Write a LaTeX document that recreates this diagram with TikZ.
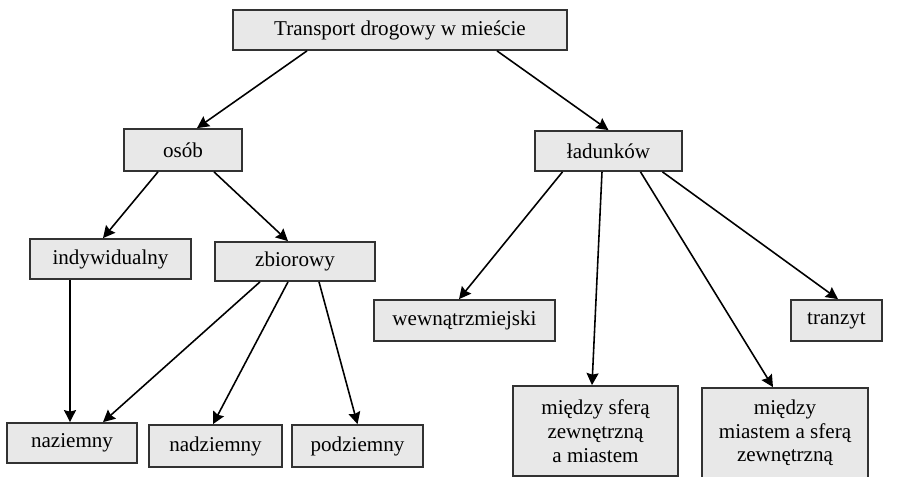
\documentclass[tikz,border=0pt]{standalone}
\usepackage{fontspec}
\setmainfont{Liberation Serif}
\usepackage{tikz}
\usetikzlibrary{arrows.meta,calc}
\definecolor{boxgray}{RGB}{232,232,232}
\definecolor{edgegray}{RGB}{50,50,50}

\begin{document}
\begin{tikzpicture}
  [x=0.02cm,y=-0.02cm,
   boxnode/.style={draw=edgegray,line width=1pt,fill=boxgray,inner sep=0pt,align=center,
     font=\fontsize{12}{13.5}\selectfont},
   arr/.style={-{Stealth[length=2.4mm,width=2.4mm,inset=0.3mm]},line width=0.9pt}]

  \useasboundingbox (0,0) rectangle (917,477);

  \node[boxnode,minimum width=6.68cm,minimum height=0.8cm] (n1) at (400,30) {Transport drogowy w mieście};
  \node[boxnode,minimum width=2.36cm,minimum height=0.84cm] (n2) at (183,150) {osób};
  \node[boxnode,minimum width=2.94cm,minimum height=0.8cm] (n3) at (608.5,151) {ładunków};
  \node[boxnode,minimum width=3.22cm,minimum height=0.8cm] (n4) at (110.5,259) {indywidualny};
  \node[boxnode,minimum width=3.2cm,minimum height=0.78cm] (n5) at (295,261.5) {zbiorowy};
  \node[boxnode,minimum width=3.62cm,minimum height=0.82cm] (n6) at (464.5,320.5) {wewnątrzmiejski};
  \node[boxnode,minimum width=1.82cm,minimum height=0.82cm] (n7) at (836.5,320.5) {tranzyt};
  \node[boxnode,minimum width=2.6cm,minimum height=0.8cm] (n8) at (72,443) {naziemny};
  \node[boxnode,minimum width=2.66cm,minimum height=0.84cm] (n9) at (215.5,446) {nadziemny};
  \node[boxnode,minimum width=2.62cm,minimum height=0.84cm] (n10) at (357.5,446) {podziemny};
  \node[boxnode,minimum width=3.3cm,minimum height=1.8cm] (n11) at (595.5,431) {między sferą\\zewnętrzną\\a miastem};
  \node[boxnode,minimum width=3.32cm,minimum height=1.8cm] (n12) at (785,433) {między\\miastem a sferą\\zewnętrzną};

  \foreach \from/\fx/\to/\tx in {n1/-93/n2/14,n1/97/n3/0,n2/-25/n4/-7.5,n2/31/n5/-7,
      n4/-40.5/n8/-2,n5/-35/n8/31,n5/-7/n9/-2.5,n5/24/n10/0,
      n3/-46/n6/-5.5,n3/-6.5/n11/-3.5,n3/32/n12/-12,n3/54/n7/1.5}
    \draw[arr] ($(\from.south)+(\fx,0)$) -- ($(\to.north)+(\tx,0)$);
\end{tikzpicture}
\end{document}
